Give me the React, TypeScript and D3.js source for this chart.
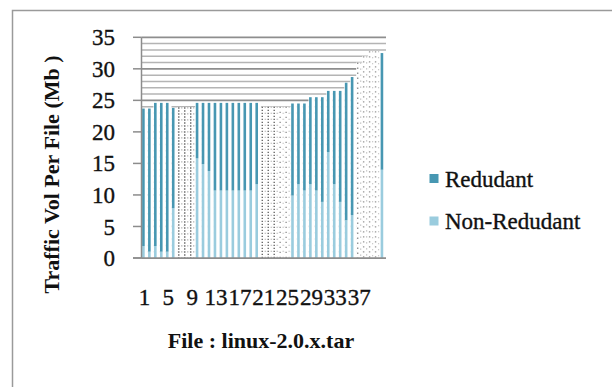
import React from "react";
import * as d3 from "d3";

const files = d3.range(1, 42).map(String);
const totalVol = [
  23.7, 23.7, 24.6, 24.6, 24.6, 23.8, 23.9, 23.9, 23.9, 24.6,
  24.6, 24.6, 24.6, 24.6, 24.6, 24.6, 24.6, 24.6, 24.6, 24.6,
  24.0, 24.0, 24.0, 24.0, 24.0, 24.5, 24.5, 24.5, 25.5, 25.5,
  25.5, 26.5, 26.5, 26.5, 27.8, 28.7, 31.0, 32.0, 32.8, 32.8,
  32.5,
];
const nonRedundant = [
  1.9, 1.0, 1.9, 1.0, 1.0, 7.9, 8.0, 8.0, 8.0, 15.8,
  14.9, 13.8, 10.7, 10.7, 10.7, 10.7, 10.7, 10.7, 10.7, 11.7,
  11.0, 11.0, 11.0, 14.0, 14.0, 9.9, 11.7, 10.7, 11.7, 10.7,
  8.9, 16.8, 11.7, 8.9, 6.0, 6.8, 10.0, 10.0, 10.0, 10.0,
  14.0,
];
const redundant = totalVol.map((t, i) => +(t - nonRedundant[i]).toFixed(1));
const yTicks = [0, 5, 10, 15, 20, 25, 30, 35];
const xTickLabels = ["1", "5", "9", "13", "17", "21", "25", "29", "33", "37"];
const seriesNames = ["Redudant", "Non-Redudant"];

// rendering style: files whose colour was lost in the scan (drawn dotted grey)
const dottedDark = new Set(["7", "8", "9", "21", "22", "23"]);
const dottedLight = new Set(["24", "25", "37", "38", "39", "40"]);

const COL_R = "#4797b2";
const COL_NR = "#9accde";
const FONT = "Liberation Serif";

export default function App() {
  const left = 141.5, right = 386, top = 37.3, bottom = 258;
  const x = d3.scaleBand().domain(files).range([left, right]).padding(0);
  const y = d3.scaleLinear().domain([0, 35]).range([bottom, top]);
  const bw = x.bandwidth();
  const stripeW = 2.6;
  const minor = d3.range(0, 36, 1);

  const data = files.map((f, i) => ({ f, nr: nonRedundant[i], r: redundant[i], t: totalVol[i] }));
  const stack = d3.stack<any>().keys(["nr", "r"])(data);
  const ink = { stroke: "#111", strokeWidth: 0.35 };

  return (
    <svg width={612} height={387} style={{ position: "absolute", left: 0, top: 0, background: "#fff" }}
      fontFamily={FONT}>
      <rect width={612} height={387} fill="#fff" />
      <path d="M12.5,387 V10.5 H612" fill="none" stroke="#9a9a9a" strokeWidth={1.5} />

      {minor.map((v) => (
        <line key={"m" + v} x1={left} x2={right} y1={y(v)} y2={y(v)}
          stroke={v % 5 === 0 ? "#8e8e8e" : "#b4b4b4"} strokeWidth={v % 5 === 0 ? 1.8 : 1.5} />
      ))}

      {data.map((d) => (
        <rect key={"w" + d.f} x={x(d.f)!} width={bw + 0.2} y={y(d.t)} height={y(0) - y(d.t)} fill="#fff" />
      ))}

      {stack.map((s, si) =>
        s.map((seg, i) => {
          const f = files[i];
          if (dottedDark.has(f) || dottedLight.has(f)) return null;
          return (
            <rect key={si + "-" + f} x={x(f)! + 0.6} width={stripeW}
              y={y(seg[1])} height={y(seg[0]) - y(seg[1])}
              fill={si === 0 ? COL_NR : COL_R} />
          );
        })
      )}

      {data.map((d) => {
        const dark = dottedDark.has(d.f);
        const light = dottedLight.has(d.f);
        if (!dark && !light) return null;
        const x0 = x(d.f)!;
        return (
          <g key={"d" + d.f}>
            <line x1={x0 + 1.5} x2={x0 + 1.5} y1={y(d.t)} y2={y(0)}
              stroke={dark ? "#666" : "#959595"} strokeWidth={1.4}
              strokeDasharray={dark ? "1.4 1.6" : "1.4 3.6"} />
            <line x1={x0 + 4.5} x2={x0 + 4.5} y1={y(d.t)} y2={y(0)}
              stroke={dark ? "#aaa" : "#bbb"} strokeWidth={1.2} strokeDasharray="1.2 4.8" />
          </g>
        );
      })}

      <line x1={left} x2={left} y1={top} y2={bottom} stroke="#8c8c8c" strokeWidth={1.5} />
      <line x1={133} x2={right} y1={bottom} y2={bottom} stroke="#8c8c8c" strokeWidth={1.5} />
      {yTicks.map((v) => (
        <g key={"yt" + v}>
          <line x1={133} x2={left} y1={y(v)} y2={y(v)} stroke="#8c8c8c" strokeWidth={1.5} />
          <text x={115} y={y(v)} dy="0.35em" textAnchor="end" fontSize={23} fill="#111" {...ink}>{v}</text>
        </g>
      ))}
      {xTickLabels.map((l) => (
        <text key={"xt" + l} x={x(l)! + bw / 2} y={305} textAnchor="middle" fontSize={23} fill="#111" {...ink}>{l}</text>
      ))}

      <text transform="translate(59,174.5) rotate(-90)" textAnchor="middle" fontSize={22} fontWeight="bold" fill="#111">
        Traffic Vol Per File (Mb )
      </text>
      <text x={261} y={348} textAnchor="middle" fontSize={22} fontWeight="bold" fill="#111">
        File : linux-2.0.x.tar
      </text>

      {seriesNames.map((n, i) => (
        <g key={n} transform={`translate(429.5, ${174 + i * 42.5})`}>
          <rect width={9} height={9} fill={i === 0 ? COL_R : COL_NR} />
          <text x={15.5} y={12.5} fontSize={23} fill="#111" {...ink}>{n}</text>
        </g>
      ))}
    </svg>
  );
}
